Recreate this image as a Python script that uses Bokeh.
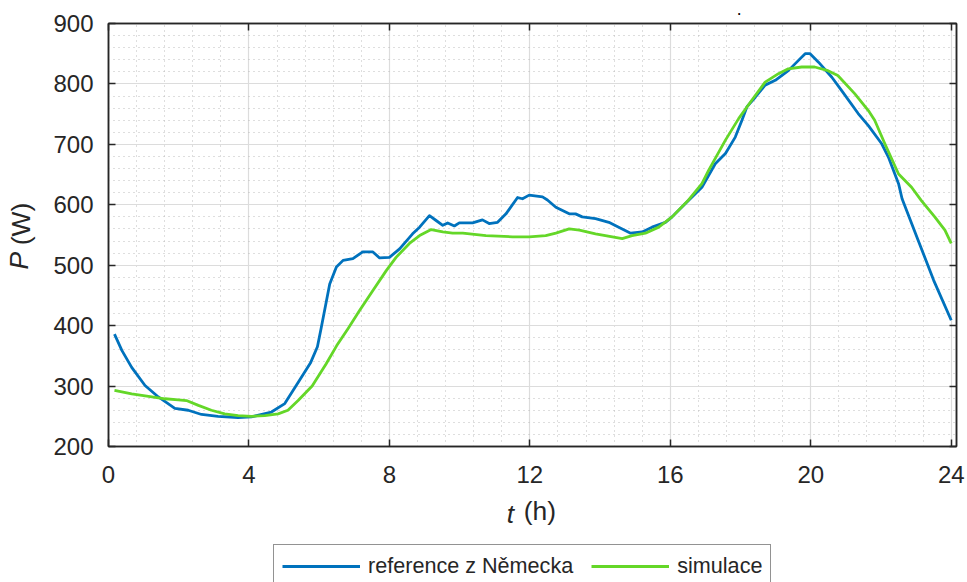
from bokeh.plotting import figure
from bokeh.layouts import column
from bokeh.models import Range1d, LinearAxis, FixedTicker, Legend, LegendItem
from bokeh.embed import file_html
from bokeh.resources import INLINE

# ---- data ----
t_ref = [0.17, 0.38, 0.66, 1.04, 1.42, 1.89, 2.27, 2.65, 3.12, 3.69, 4.07, 4.64, 5.02, 5.4,
         5.75, 5.95, 6.06, 6.3, 6.49, 6.68, 6.96, 7.24, 7.53, 7.72, 8.0, 8.29, 8.66, 8.86,
         9.14, 9.33, 9.52, 9.66, 9.85, 9.99, 10.37, 10.65, 10.84, 11.08, 11.32, 11.65, 11.79,
         11.98, 12.36, 12.5, 12.74, 13.12, 13.3, 13.49, 13.87, 14.25, 14.53, 14.87, 15.2,
         15.48, 15.86, 16.05, 16.43, 16.9, 17.28, 17.57, 17.85, 18.04, 18.18, 18.42, 18.7,
         18.99, 19.36, 19.65, 19.84, 19.98, 20.22, 20.6, 20.88, 21.35, 21.64, 22.02, 22.21,
         22.5, 22.6, 23.06, 23.5, 24.0]
p_ref = [386, 359, 331, 301, 282, 263, 260, 253, 250, 248, 249, 257, 271, 306,
         338, 365, 397, 469, 497, 508, 511, 522, 522, 512, 513, 527, 552, 563,
         582, 574, 566, 570, 565, 570, 570, 575, 569, 571, 585, 612, 610,
         616, 613, 608, 596, 585, 585, 580, 577, 571, 563, 553, 555,
         563, 571, 580, 602, 629, 668, 685, 712, 740, 762, 778, 798,
         806, 822, 839, 850, 850, 836, 811, 789, 751, 731, 701, 679,
         635, 610, 541, 475, 409]

t_sim = [0.17, 0.66, 1.14, 1.61, 1.99, 2.22, 2.56, 2.93, 3.31, 3.69, 4.07, 4.45, 4.83, 5.11,
         5.4, 5.8, 6.2, 6.5, 6.82, 7.15, 7.53, 7.91, 8.19, 8.57, 8.86, 9.19, 9.52, 9.8, 10.09,
         10.75, 11.51, 11.98, 12.45, 12.74, 13.12, 13.41, 13.87, 14.35, 14.63, 14.91, 15.29,
         15.67, 16.05, 16.52, 16.9, 17.09, 17.57, 17.95, 18.32, 18.7, 19.08, 19.36, 19.74,
         20.11, 20.49, 20.77, 21.25, 21.64, 21.82, 22.11, 22.5, 22.87, 23.15, 23.53, 23.82, 24.0]
p_sim = [293, 287, 283, 279, 277, 276, 268, 260, 254, 251, 250, 251, 254, 260,
         276, 300, 337, 367, 395, 425, 458, 491, 513, 536, 549, 559, 555, 553, 553,
         549, 547, 547, 549, 553, 560, 558, 552, 547, 544, 549, 553,
         563, 580, 608, 635, 657, 707, 743, 773, 803, 817, 825, 828,
         828, 822, 814, 784, 756, 740, 701, 651, 629, 607, 580, 558, 536]

x_ticks = [0, 4, 8, 12, 16, 20, 24]
y_ticks = [200, 300, 400, 500, 600, 700, 800, 900]
x_minor = [round(0.8 * i, 2) for i in range(31)]
y_minor = list(range(200, 901, 20))

series_labels = ["reference z Německa", "simulace"]

FONT = "Liberation Sans"
AX = "#262626"
BLUE = "#0072BD"
GREEN = "#64D728"
NB = "\u00a0"

p = figure(width=967, height=543, output_backend="svg", toolbar_location=None,
           x_range=Range1d(0, 24.15), y_range=Range1d(200, 900),
           min_border_left=105, min_border_right=11, min_border_top=23, min_border_bottom=97,
           background_fill_color="white", border_fill_color="white")

xt = FixedTicker(ticks=x_ticks, minor_ticks=x_minor)
yt = FixedTicker(ticks=y_ticks, minor_ticks=y_minor)

p.xaxis.ticker = xt
p.yaxis.ticker = yt
p.xgrid.ticker = xt
p.ygrid.ticker = yt

for g in (p.xgrid, p.ygrid):
    g.grid_line_color = "#dcdcdc"
    g.grid_line_width = 1.2
    g.minor_grid_line_color = "#bdbdbd"
    g.minor_grid_line_dash = "1 4"
    g.minor_grid_line_width = 1

for ax in (p.xaxis, p.yaxis):
    ax.axis_line_color = AX
    ax.axis_line_width = 1.5
    ax.major_tick_line_color = AX
    ax.major_tick_line_width = 1.5
    ax.major_tick_in = 7
    ax.major_tick_out = 0
    ax.minor_tick_line_color = None
    ax.major_label_text_font = FONT
    ax.major_label_text_font_size = "24px"
    ax.major_label_text_color = AX
    ax.axis_label_text_font = FONT
    ax.axis_label_text_font_size = "26.4px"
    ax.axis_label_text_color = AX
    ax.axis_label_text_font_style = "normal"
p.xaxis.major_label_standoff = 15
p.yaxis.major_label_standoff = 11
# units part of the titles; no-break spaces leave room for the italic symbol
p.xaxis.axis_label = NB * 2 + "(h)"
p.yaxis.axis_label = NB * 3 + "(W)"
p.xaxis.axis_label_standoff = 10
p.yaxis.axis_label_standoff = 14


def bare_axis(ticks):
    a = LinearAxis(ticker=FixedTicker(ticks=ticks))
    a.axis_line_color = None
    a.major_tick_line_color = None
    a.minor_tick_line_color = None
    a.major_tick_in = 0
    a.major_tick_out = 0
    a.major_label_text_font_size = "0px"
    a.major_label_text_color = None
    a.major_label_standoff = 0
    return a


# italic symbol parts of the titles, pulled back onto the title line
t_axis = bare_axis([])
t_axis.axis_label = "t" + NB * 6
t_axis.axis_label_text_font = FONT
t_axis.axis_label_text_font_size = "26.4px"
t_axis.axis_label_text_font_style = "italic"
t_axis.axis_label_text_color = AX
t_axis.axis_label_standoff = -30
p.add_layout(t_axis, "below")

p_axis = bare_axis([])
p_axis.axis_label = "P" + NB * 7
p_axis.axis_label_text_font = FONT
p_axis.axis_label_text_font_size = "26.4px"
p_axis.axis_label_text_font_style = "italic"
p_axis.axis_label_text_color = AX
p_axis.axis_label_standoff = -30
p.add_layout(p_axis, "left")

# mirrored box ticks (top / right), no labels
top = LinearAxis(ticker=FixedTicker(ticks=x_ticks))
right = LinearAxis(ticker=FixedTicker(ticks=y_ticks))
for ax in (top, right):
    ax.axis_line_color = AX
    ax.axis_line_width = 1.5
    ax.major_tick_line_color = AX
    ax.major_tick_line_width = 1.5
    ax.major_tick_in = 7
    ax.major_tick_out = 0
    ax.minor_tick_line_color = None
    ax.major_label_text_font_size = "0px"
    ax.major_label_text_color = None
    ax.major_label_standoff = 0
p.add_layout(top, "above")
p.add_layout(right, "right")

p.outline_line_color = AX
p.outline_line_width = 1.5

p.line(t_ref, p_ref, line_color=BLUE, line_width=2.8, line_join="round")
p.line(t_sim, p_sim, line_color=GREEN, line_width=2.8, line_join="round")

# small dot above the axes
p.title.text = "\u00b7"
p.title.align = "left"
p.title.offset = 629
p.title.standoff = 6
p.title.text_font = FONT
p.title.text_font_size = "12px"
p.title.text_font_style = "bold"
p.title.text_color = "#000000"

# ---- legend strip below the chart ----
leg = figure(width=967, height=39, output_backend="svg", toolbar_location=None,
             x_range=Range1d(100, 101), y_range=Range1d(0, 1),
             x_axis_type=None, y_axis_type=None, min_border=0,
             background_fill_color="white", border_fill_color="white")
leg.outline_line_color = None
leg.grid.visible = False
g1 = leg.line(t_ref, p_ref, line_color=BLUE, line_width=2.8)
g2 = leg.line(t_sim, p_sim, line_color=GREEN, line_width=2.8)

legend = Legend(items=[LegendItem(label=series_labels[0], renderers=[g1]),
                       LegendItem(label=series_labels[1], renderers=[g2])],
                orientation="horizontal", location=(165, -6), padding=8, margin=0,
                spacing=18, glyph_width=78, glyph_height=20, label_standoff=8,
                label_text_font=FONT, label_text_font_size="21.6px", label_text_color=AX,
                border_line_color=AX, border_line_width=1.3, background_fill_color="white",
                background_fill_alpha=1.0)
leg.add_layout(legend)

layout = column(p, leg, spacing=0)

open("out.html", "w").write(file_html(layout, INLINE))
